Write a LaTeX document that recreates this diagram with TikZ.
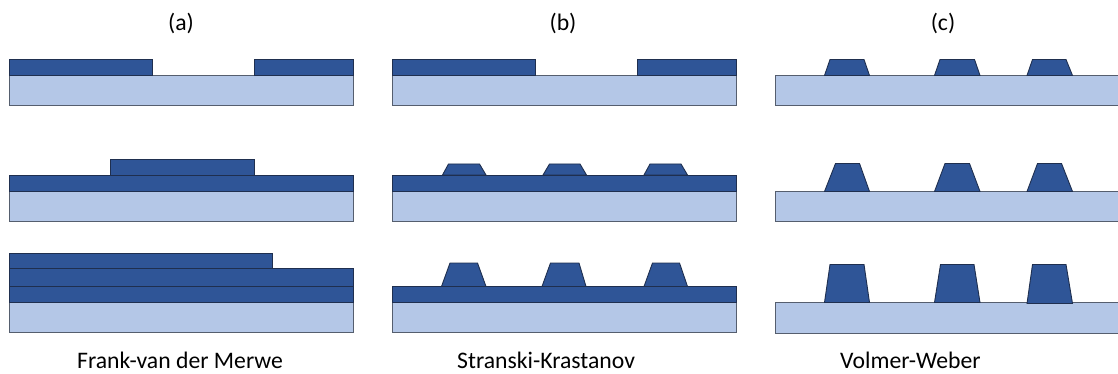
\documentclass[tikz,border=0pt]{standalone}
\usepackage{fontspec}
\setmainfont{Carlito}
\definecolor{filmblue}{HTML}{2F5597}
\definecolor{subblue}{HTML}{B4C7E7}
\definecolor{filmline}{HTML}{1F2F4F}
\definecolor{subline}{HTML}{555E6E}
\tikzset{
  substrate/.style={fill=subblue, draw=subline, line width=0.9pt},
  film/.style={fill=filmblue, draw=filmline, line width=0.9pt, line join=miter},
  caption/.style={anchor=base, inner sep=0pt, font=\fontsize{23.7}{28}\selectfont},
  modename/.style={anchor=base west, inner sep=0pt, font=\fontsize{23.7}{28}\selectfont}
}
% trapezoidal island: bottom-left x, bottom-right x, top-left x, top-right x, bottom y, top y
\newcommand{\islandshape}[6]{%
  \draw[film] (#1,#5) -- (#3,#6) -- (#4,#6) -- (#2,#5) -- cycle;}
\begin{document}
\begin{tikzpicture}[x=1pt, y=-1pt]
\useasboundingbox (0,0) rectangle (1118,374);
\clip (0,0) rectangle (1118,374);

% ---------- column (a): Frank-van der Merwe ----------
\node[caption] (capa) at (181,31) {(a)};
% row 1
\draw[substrate] (9.5,75.5) rectangle (353.5,105.5);
\draw[film] (9.5,59.5) rectangle (152.5,75.5);
\draw[film] (254,59.5) rectangle (353.5,75.5);
% row 2
\draw[substrate] (9.5,191.5) rectangle (353.5,221.5);
\draw[film] (9.5,175) rectangle (353.5,191.5);
\draw[film] (110.5,159.5) rectangle (254,175);
% row 3
\draw[substrate] (9.5,302.5) rectangle (353.5,332.5);
\draw[film] (9.5,286) rectangle (353.5,302.5);
\draw[film] (9.5,268.5) rectangle (353.5,286);
\draw[film] (9.5,253.5) rectangle (272.5,268.5);
\node[modename] (namea) at (77,368.5) {Frank-van der Merwe};

% ---------- column (b): Stranski-Krastanov ----------
\node[caption] (capb) at (563,31) {(b)};
% row 1
\draw[substrate] (392,75.5) rectangle (736.5,105.5);
\draw[film] (392,59.5) rectangle (535,75.5);
\draw[film] (637,59.5) rectangle (736.5,75.5);
% row 2
\draw[substrate] (392,191.5) rectangle (736.5,221.5);
\draw[film] (392,175) rectangle (736.5,191.5);
\islandshape{442.5}{486}{448.5}{479.5}{175}{164}
\islandshape{543}{586.5}{549.5}{580}{175}{164}
\islandshape{644}{687.5}{650}{681}{175}{164}
% row 3
\draw[substrate] (392,302.5) rectangle (736.5,332.5);
\draw[film] (392,286.5) rectangle (736.5,302.5);
\islandshape{441.5}{486}{450}{477.5}{286.5}{263}
\islandshape{542}{586}{550.5}{579}{286.5}{263}
\islandshape{644}{687.5}{652.5}{679.5}{286.5}{263}
\node[modename] (nameb) at (457,368.5) {Stranski-Krastanov};

% ---------- column (c): Volmer-Weber ----------
\node[caption] (capc) at (943,31) {(c)};
% row 1
\draw[substrate] (775,75.5) rectangle (1125,105.5);
\islandshape{824.5}{869.5}{830}{864}{75.5}{59.5}
\islandshape{934.5}{980}{940}{974.5}{75.5}{59.5}
\islandshape{1027}{1072.5}{1032.5}{1066}{75.5}{59.5}
% row 2
\draw[substrate] (775,191.5) rectangle (1125,221.5);
\islandshape{824.5}{869.5}{835.5}{859.5}{191.5}{163.5}
\islandshape{934.5}{980}{945}{969.5}{191.5}{163.5}
\islandshape{1027}{1072.5}{1037.5}{1061.5}{191.5}{163.5}
% row 3
\draw[substrate] (775,302.5) rectangle (1125,333);
\islandshape{824.5}{869.5}{830}{864}{302.5}{264.5}
\islandshape{934.5}{980}{940.5}{974}{302.5}{264.5}
\islandshape{1027}{1072.5}{1032.5}{1066}{303.5}{264.5}
\node[modename] (namec) at (840,368.5) {Volmer-Weber};
\end{tikzpicture}
\end{document}
